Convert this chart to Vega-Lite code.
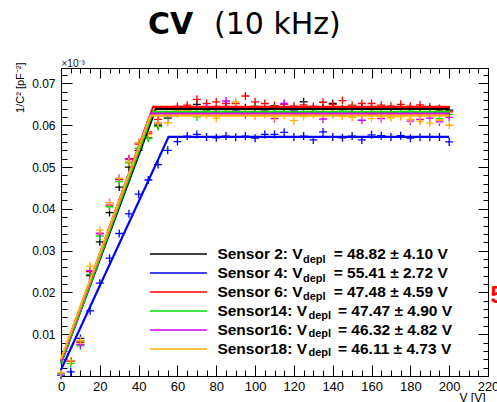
{
  "$schema": "https://vega.github.io/schema/vega-lite/v6.json",
  "width": 427,
  "height": 308,
  "autosize": {"type": "none"},
  "padding": {"left": 61, "top": 68, "right": 9, "bottom": 26},
  "background": "white",
  "config": {
    "font": "Liberation Sans",
    "view": {"stroke": "#000", "strokeWidth": 1}
  },
  "title": {
    "text": "CV",
    "subtitle": "\u200d\u2003\u2003\u2009(10 kHz)",
    "anchor": "start",
    "frame": "group",
    "dx": 87,
    "offset": 18,
    "font": "DejaVu Sans",
    "fontSize": 30,
    "fontWeight": "bold",
    "color": "#000",
    "subtitleFont": "DejaVu Sans",
    "subtitleFontSize": 30,
    "subtitleFontWeight": "normal",
    "subtitleColor": "#000",
    "subtitlePadding": -30
  },
  "datasets": {
    "fits": [
      {"sensor": "Sensor 2", "vdepl": 48.82, "V": 0, "C": 0.0030},
      {"sensor": "Sensor 2", "vdepl": 48.82, "V": 48.82, "C": 0.0639},
      {"sensor": "Sensor 2", "vdepl": 48.82, "V": 200, "C": 0.0639},
      {"sensor": "Sensor 4", "vdepl": 55.41, "V": 0, "C": 0.0015},
      {"sensor": "Sensor 4", "vdepl": 55.41, "V": 55.41, "C": 0.0572},
      {"sensor": "Sensor 4", "vdepl": 55.41, "V": 200, "C": 0.0572},
      {"sensor": "Sensor 6", "vdepl": 47.48, "V": 0, "C": 0.0035},
      {"sensor": "Sensor 6", "vdepl": 47.48, "V": 47.48, "C": 0.0644},
      {"sensor": "Sensor 6", "vdepl": 47.48, "V": 200, "C": 0.0644},
      {"sensor": "Sensor14", "vdepl": 47.47, "V": 0, "C": 0.0030},
      {"sensor": "Sensor14", "vdepl": 47.47, "V": 47.47, "C": 0.0632},
      {"sensor": "Sensor14", "vdepl": 47.47, "V": 200, "C": 0.0632},
      {"sensor": "Sensor16", "vdepl": 46.32, "V": 0, "C": 0.0035},
      {"sensor": "Sensor16", "vdepl": 46.32, "V": 46.32, "C": 0.0628},
      {"sensor": "Sensor16", "vdepl": 46.32, "V": 200, "C": 0.0628},
      {"sensor": "Sensor18", "vdepl": 46.11, "V": 0, "C": 0.0040},
      {"sensor": "Sensor18", "vdepl": 46.11, "V": 46.11, "C": 0.0623},
      {"sensor": "Sensor18", "vdepl": 46.11, "V": 200, "C": 0.0623}
    ],
    "points": [
      {"V": 0, "Sensor 2": 0.0008, "Sensor 4": 0.0002, "Sensor 6": 0.0008, "Sensor14": 0.0008, "Sensor16": 0.0008, "Sensor18": 0.0008},
      {"V": 5, "Sensor 2": 0.0035, "Sensor 4": 0.0010, "Sensor 6": 0.0036, "Sensor14": 0.0030, "Sensor16": 0.0036, "Sensor18": 0.0036},
      {"V": 10, "Sensor 2": 0.0084, "Sensor 4": 0.0090, "Sensor 6": 0.0080, "Sensor14": 0.0072, "Sensor16": 0.0075, "Sensor18": 0.0085},
      {"V": 15, "Sensor 2": 0.0240, "Sensor 4": 0.0156, "Sensor 6": 0.0250, "Sensor14": 0.0243, "Sensor16": 0.0252, "Sensor18": 0.0263},
      {"V": 20, "Sensor 2": 0.0321, "Sensor 4": 0.0222, "Sensor 6": 0.0341, "Sensor14": 0.0335, "Sensor16": 0.0341, "Sensor18": 0.0349},
      {"V": 25, "Sensor 2": 0.0391, "Sensor 4": 0.0282, "Sensor 6": 0.0409, "Sensor14": 0.0405, "Sensor16": 0.0415, "Sensor18": 0.0415},
      {"V": 30, "Sensor 2": 0.0452, "Sensor 4": 0.0341, "Sensor 6": 0.0470, "Sensor14": 0.0465, "Sensor16": 0.0473, "Sensor18": 0.0473},
      {"V": 35, "Sensor 2": 0.0500, "Sensor 4": 0.0388, "Sensor 6": 0.0520, "Sensor14": 0.0510, "Sensor16": 0.0518, "Sensor18": 0.0513},
      {"V": 40, "Sensor 2": 0.0540, "Sensor 4": 0.0435, "Sensor 6": 0.0555, "Sensor14": 0.0545, "Sensor16": 0.0558, "Sensor18": 0.0558},
      {"V": 45, "Sensor 2": 0.0570, "Sensor 4": 0.0469, "Sensor 6": 0.0584, "Sensor14": 0.0569, "Sensor16": 0.0580, "Sensor18": 0.0578},
      {"V": 50, "Sensor 2": 0.0600, "Sensor 4": 0.0506, "Sensor 6": 0.0614, "Sensor14": 0.0597, "Sensor16": 0.0605, "Sensor18": 0.0605},
      {"V": 55, "Sensor 2": 0.0617, "Sensor 4": 0.0540, "Sensor 6": 0.0625, "Sensor14": 0.0620, "Sensor16": 0.0622, "Sensor18": 0.0606},
      {"V": 60, "Sensor 2": 0.0640, "Sensor 4": 0.0561, "Sensor 6": 0.0645, "Sensor14": 0.0628, "Sensor16": 0.0630, "Sensor18": 0.0636},
      {"V": 65, "Sensor 2": 0.0642, "Sensor 4": 0.0574, "Sensor 6": 0.0648, "Sensor14": 0.0632, "Sensor16": 0.0634, "Sensor18": 0.0636},
      {"V": 70, "Sensor 2": 0.0650, "Sensor 4": 0.0578, "Sensor 6": 0.0662, "Sensor14": 0.0620, "Sensor16": 0.0640, "Sensor18": 0.0628},
      {"V": 75, "Sensor 2": 0.0641, "Sensor 4": 0.0572, "Sensor 6": 0.0652, "Sensor14": 0.0635, "Sensor16": 0.0642, "Sensor18": 0.0625},
      {"V": 80, "Sensor 2": 0.0638, "Sensor 4": 0.0570, "Sensor 6": 0.0656, "Sensor14": 0.0630, "Sensor16": 0.0633, "Sensor18": 0.0617},
      {"V": 85, "Sensor 2": 0.0644, "Sensor 4": 0.0574, "Sensor 6": 0.0652, "Sensor14": 0.0633, "Sensor16": 0.0658, "Sensor18": 0.0630},
      {"V": 90, "Sensor 2": 0.0640, "Sensor 4": 0.0571, "Sensor 6": 0.0652, "Sensor14": 0.0637, "Sensor16": 0.0636, "Sensor18": 0.0656},
      {"V": 95, "Sensor 2": 0.0642, "Sensor 4": 0.0574, "Sensor 6": 0.0670, "Sensor14": 0.0629, "Sensor16": 0.0625, "Sensor18": 0.0632},
      {"V": 100, "Sensor 2": 0.0645, "Sensor 4": 0.0569, "Sensor 6": 0.0656, "Sensor14": 0.0640, "Sensor16": 0.0630, "Sensor18": 0.0622},
      {"V": 105, "Sensor 2": 0.0637, "Sensor 4": 0.0578, "Sensor 6": 0.0652, "Sensor14": 0.0631, "Sensor16": 0.0628, "Sensor18": 0.0626},
      {"V": 110, "Sensor 2": 0.0641, "Sensor 4": 0.0578, "Sensor 6": 0.0647, "Sensor14": 0.0640, "Sensor16": 0.0616, "Sensor18": 0.0620},
      {"V": 115, "Sensor 2": 0.0643, "Sensor 4": 0.0583, "Sensor 6": 0.0650, "Sensor14": 0.0630, "Sensor16": 0.0652, "Sensor18": 0.0624},
      {"V": 120, "Sensor 2": 0.0638, "Sensor 4": 0.0572, "Sensor 6": 0.0646, "Sensor14": 0.0634, "Sensor16": 0.0636, "Sensor18": 0.0611},
      {"V": 125, "Sensor 2": 0.0656, "Sensor 4": 0.0574, "Sensor 6": 0.0649, "Sensor14": 0.0628, "Sensor16": 0.0627, "Sensor18": 0.0621},
      {"V": 130, "Sensor 2": 0.0640, "Sensor 4": 0.0565, "Sensor 6": 0.0645, "Sensor14": 0.0633, "Sensor16": 0.0631, "Sensor18": 0.0625},
      {"V": 135, "Sensor 2": 0.0642, "Sensor 4": 0.0584, "Sensor 6": 0.0655, "Sensor14": 0.0631, "Sensor16": 0.0615, "Sensor18": 0.0627},
      {"V": 140, "Sensor 2": 0.0652, "Sensor 4": 0.0572, "Sensor 6": 0.0650, "Sensor14": 0.0627, "Sensor16": 0.0629, "Sensor18": 0.0630},
      {"V": 145, "Sensor 2": 0.0639, "Sensor 4": 0.0570, "Sensor 6": 0.0659, "Sensor14": 0.0634, "Sensor16": 0.0625, "Sensor18": 0.0622},
      {"V": 150, "Sensor 2": 0.0641, "Sensor 4": 0.0574, "Sensor 6": 0.0648, "Sensor14": 0.0640, "Sensor16": 0.0630, "Sensor18": 0.0619},
      {"V": 155, "Sensor 2": 0.0644, "Sensor 4": 0.0565, "Sensor 6": 0.0652, "Sensor14": 0.0630, "Sensor16": 0.0612, "Sensor18": 0.0624},
      {"V": 160, "Sensor 2": 0.0640, "Sensor 4": 0.0577, "Sensor 6": 0.0652, "Sensor14": 0.0638, "Sensor16": 0.0626, "Sensor18": 0.0616},
      {"V": 165, "Sensor 2": 0.0642, "Sensor 4": 0.0575, "Sensor 6": 0.0648, "Sensor14": 0.0639, "Sensor16": 0.0616, "Sensor18": 0.0620},
      {"V": 170, "Sensor 2": 0.0638, "Sensor 4": 0.0572, "Sensor 6": 0.0646, "Sensor14": 0.0632, "Sensor16": 0.0628, "Sensor18": 0.0618},
      {"V": 175, "Sensor 2": 0.0641, "Sensor 4": 0.0575, "Sensor 6": 0.0650, "Sensor14": 0.0629, "Sensor16": 0.0624, "Sensor18": 0.0621},
      {"V": 180, "Sensor 2": 0.0643, "Sensor 4": 0.0569, "Sensor 6": 0.0645, "Sensor14": 0.0633, "Sensor16": 0.0610, "Sensor18": 0.0614},
      {"V": 185, "Sensor 2": 0.0640, "Sensor 4": 0.0571, "Sensor 6": 0.0649, "Sensor14": 0.0630, "Sensor16": 0.0614, "Sensor18": 0.0610},
      {"V": 190, "Sensor 2": 0.0639, "Sensor 4": 0.0571, "Sensor 6": 0.0644, "Sensor14": 0.0628, "Sensor16": 0.0617, "Sensor18": 0.0605},
      {"V": 195, "Sensor 2": 0.0637, "Sensor 4": 0.0572, "Sensor 6": 0.0640, "Sensor14": 0.0616, "Sensor16": 0.0608, "Sensor18": 0.0612},
      {"V": 200, "Sensor 2": 0.0636, "Sensor 4": 0.0560, "Sensor 6": 0.0632, "Sensor14": 0.0626, "Sensor16": 0.0619, "Sensor18": 0.0600}
    ]
  },
  "layer": [
    {
      "data": {"name": "points"},
      "transform": [
        {"fold": ["Sensor 2", "Sensor 4", "Sensor 6", "Sensor14", "Sensor16", "Sensor18"], "as": ["sensor", "C"]}
      ],
      "mark": {"type": "point", "shape": "M-1,0H1M0,-1V1", "size": 64, "filled": false, "strokeWidth": 1.3, "opacity": 1},
      "encoding": {
        "x": {
          "field": "V", "type": "quantitative",
          "scale": {"domain": [0, 220], "nice": false, "zero": false},
          "axis": {
            "orient": "top",
            "values": [0,5,10,15,20,25,30,35,40,45,50,55,60,65,70,75,80,85,90,95,100,105,110,115,120,125,130,135,140,145,150,155,160,165,170,175,180,185,190,195,200,205,210,215,220],
            "tickSize": {"condition": {"test": "datum.value % 20 === 0", "value": -10}, "value": -5},
            "tickColor": "#000",
            "labels": false,
            "domain": true,
            "domainColor": "#000",
            "domainWidth": 1,
            "grid": false,
            "title": "\u00d710\u207b\u00b3",
            "titleFont": "Liberation Sans",
            "titleFontSize": 10,
            "titleFontWeight": "normal",
            "titleColor": "#222",
            "titleAnchor": "start",
            "titleAlign": "left",
            "titleBaseline": "alphabetic",
            "titleX": 0,
            "titleY": -2
          }
        },
        "y": {
          "field": "C", "type": "quantitative",
          "scale": {"domain": [0, 0.0737], "nice": false, "zero": false},
          "axis": {
            "orient": "right",
            "values": [0,0.002,0.004,0.006,0.008,0.01,0.012,0.014,0.016,0.018,0.02,0.022,0.024,0.026,0.028,0.03,0.032,0.034,0.036,0.038,0.04,0.042,0.044,0.046,0.048,0.05,0.052,0.054,0.056,0.058,0.06,0.062,0.064,0.066,0.068,0.07,0.072],
            "tickSize": {"condition": {"test": "abs(datum.value*100 - round(datum.value*100)) < 1e-6", "value": -10}, "value": -5},
            "tickColor": "#000",
            "labels": false,
            "domain": true,
            "domainColor": "#000",
            "domainWidth": 1,
            "grid": false,
            "title": "5",
            "titleFont": "Liberation Sans",
            "titleFontSize": 24,
            "titleFontWeight": "bold",
            "titleColor": "#ff0000",
            "titleAngle": 0,
            "titleAlign": "left",
            "titleBaseline": "middle",
            "titleX": 2,
            "titleY": 227
          }
        },
        "color": {
          "field": "sensor", "type": "nominal",
          "scale": {"domain": ["Sensor 2", "Sensor 4", "Sensor 6", "Sensor14", "Sensor16", "Sensor18"], "range": ["#000000", "#0000ff", "#ff0000", "#00e000", "#d400ff", "#ffb000"]}
        }
      }
    },
    {
      "data": {"name": "fits"},
      "mark": {"type": "line", "strokeWidth": 2.2},
      "encoding": {
        "x": {
          "field": "V", "type": "quantitative",
          "scale": {"domain": [0, 220], "nice": false, "zero": false},
          "axis": {
            "orient": "bottom",
            "values": [0,5,10,15,20,25,30,35,40,45,50,55,60,65,70,75,80,85,90,95,100,105,110,115,120,125,130,135,140,145,150,155,160,165,170,175,180,185,190,195,200,205,210,215,220],
            "tickSize": {"condition": {"test": "datum.value % 20 === 0", "value": -11}, "value": -6},
            "tickColor": "#000",
            "labelExpr": "datum.value % 20 === 0 ? format(datum.value, 'd') : ''",
            "labelPadding": 15,
            "labelFont": "Liberation Sans",
            "labelFontSize": 13,
            "labelColor": "#000",
            "labelOverlap": false,
            "labelFlush": false,
            "domain": true,
            "domainColor": "#000",
            "domainWidth": 1,
            "grid": false,
            "title": "V [V]",
            "titleFont": "Liberation Sans",
            "titleFontSize": 12,
            "titleFontWeight": "normal",
            "titleColor": "#000",
            "titleAnchor": "end",
            "titleAlign": "right",
            "titleBaseline": "alphabetic",
            "titleX": 424,
            "titleY": 25
          }
        },
        "y": {
          "field": "C", "type": "quantitative",
          "scale": {"domain": [0, 0.0737], "nice": false, "zero": false},
          "axis": {
            "orient": "left",
            "values": [0,0.002,0.004,0.006,0.008,0.01,0.012,0.014,0.016,0.018,0.02,0.022,0.024,0.026,0.028,0.03,0.032,0.034,0.036,0.038,0.04,0.042,0.044,0.046,0.048,0.05,0.052,0.054,0.056,0.058,0.06,0.062,0.064,0.066,0.068,0.07,0.072],
            "tickSize": {"condition": {"test": "abs(datum.value*100 - round(datum.value*100)) < 1e-6", "value": -11}, "value": -6},
            "tickColor": "#000",
            "labelExpr": "abs(datum.value*100 - round(datum.value*100)) < 1e-6 && datum.value > 0 ? format(datum.value, '.2f') : ''",
            "labelPadding": 17,
            "labelFont": "Liberation Sans",
            "labelFontSize": 12,
            "labelColor": "#000",
            "labelOverlap": false,
            "labelFlush": false,
            "domain": true,
            "domainColor": "#000",
            "domainWidth": 1,
            "grid": false,
            "title": "1/C\u00b2 [pF\u207b\u00b2]",
            "titleFont": "Liberation Sans",
            "titleFontSize": 11,
            "titleFontWeight": "normal",
            "titleColor": "#000",
            "titleAngle": -90,
            "titleAnchor": "end",
            "titleAlign": "right",
            "titleBaseline": "middle",
            "titleX": -41,
            "titleY": -6
          }
        },
        "color": {
          "field": "sensor", "type": "nominal",
          "scale": {"domain": ["Sensor 2", "Sensor 4", "Sensor 6", "Sensor14", "Sensor16", "Sensor18"], "range": ["#000000", "#0000ff", "#ff0000", "#00e000", "#d400ff", "#ffb000"]},
          "legend": {
            "orient": "none",
            "legendX": 106.9,
            "legendY": 175.5,
            "title": null,
            "padding": 0,
            "symbolType": "M-2.97,0H2.97",
            "symbolSize": 368.6,
            "symbolStrokeWidth": 1.6,
            "symbolFillColor": "transparent",
            "labelOffset": 28.5,
            "rowPadding": 0,
            "labelFont": "Liberation Sans",
            "labelFontSize": 15.5,
            "labelFontWeight": "bold",
            "labelColor": "#000",
            "labelLimit": 400,
            "labelExpr": "['Sensor 2: V\u2003\u2003= 48.82 \u00b1 4.10 V', 'Sensor 4: V\u2003\u2003= 55.41 \u00b1 2.72 V', 'Sensor 6: V\u2003\u2003= 47.48 \u00b1 4.59 V', 'Sensor14: V\u2003\u2003= 47.47 \u00b1 4.90 V', 'Sensor16: V\u2003\u2003= 46.32 \u00b1 4.82 V', 'Sensor18: V\u2003\u2003= 46.11 \u00b1 4.73 V'][indexof(['Sensor 2', 'Sensor 4', 'Sensor 6', 'Sensor14', 'Sensor16', 'Sensor18'], datum.value)]"
          }
        },
        "strokeDash": {
          "field": "vdepl", "type": "nominal",
          "scale": {"domain": [48.82, 55.41, 47.48, 47.47, 46.32, 46.11], "range": [[1, 0], [1, 0], [1, 0], [1, 0], [1, 0], [1, 0]]},
          "legend": {
            "orient": "none",
            "legendX": 220,
            "legendY": 181,
            "title": null,
            "padding": 0,
            "symbolType": "M-2.85,0H2.85",
            "symbolSize": 400,
            "symbolStrokeWidth": 1.6,
            "symbolOpacity": 0,
            "symbolStrokeColor": "transparent",
            "labelOffset": 0,
            "rowPadding": 2.6,
            "labelFont": "Liberation Sans",
            "labelFontSize": 11,
            "labelFontWeight": "bold",
            "labelColor": "#000",
            "labelExpr": "+datum.value <= 47.47 ? '\u200d\u2002depl' : 'depl'"
          }
        }
      }
    }
  ],
  "resolve": {"axis": {"x": "independent", "y": "independent"}}
}
